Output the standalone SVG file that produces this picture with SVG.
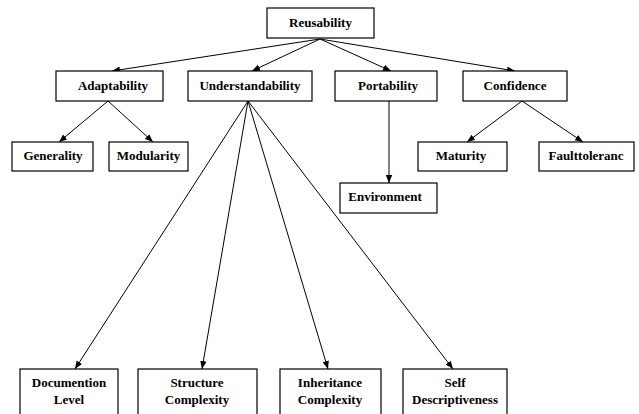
<svg xmlns="http://www.w3.org/2000/svg" width="639" height="414" viewBox="0 0 639 414">
<style>
rect{fill:#fff;stroke:#000;stroke-width:1.2}
text{font-family:"Liberation Serif","Times New Roman",serif;font-weight:bold;font-size:13px;text-anchor:middle;fill:#000}
.c line{stroke:#000;stroke-width:1;marker-end:url(#a)}
</style>
<defs>
<marker id="a" viewBox="0 0 10 10" refX="10" refY="5" markerWidth="8" markerHeight="8" markerUnits="userSpaceOnUse" orient="auto">
<path d="M0,1 L10,5 L0,9 Z" fill="#000"/>
</marker>
</defs>
<rect x="0" y="0" width="639" height="414" style="stroke:none"/>
<g class="c" id="connectors">
<line x1="320" y1="39" x2="112" y2="71"/>
<line x1="320" y1="39" x2="252" y2="71"/>
<line x1="320" y1="39" x2="391" y2="71"/>
<line x1="320" y1="39" x2="515" y2="71"/>
<line x1="108" y1="101" x2="59" y2="142"/>
<line x1="108" y1="101" x2="153" y2="142"/>
<line x1="248" y1="101" x2="75" y2="369"/>
<line x1="248" y1="101" x2="202" y2="369"/>
<line x1="248" y1="101" x2="328" y2="369"/>
<line x1="248" y1="101" x2="453" y2="369"/>
<line x1="389" y1="101" x2="389" y2="183"/>
<line x1="522" y1="101" x2="467" y2="142"/>
<line x1="522" y1="101" x2="583" y2="142"/>
</g>
<g id="reusability"><rect x="267" y="8" width="107" height="30"/><text x="320.5" y="27">Reusability</text></g>
<g id="adaptability"><rect x="56" y="71" width="107" height="30"/><text x="113" y="90">Adaptability</text></g>
<g id="understandability"><rect x="188" y="71" width="124" height="30"/><text x="250" y="90">Understandability</text></g>
<g id="portability"><rect x="335" y="71" width="102" height="30"/><text x="388" y="90">Portability</text></g>
<g id="confidence"><rect x="463" y="71" width="104" height="30"/><text x="515" y="90">Confidence</text></g>
<g id="generality"><rect x="12" y="142" width="81" height="29"/><text x="53" y="160">Generality</text></g>
<g id="modularity"><rect x="109" y="142" width="79" height="29"/><text x="148.5" y="160">Modularity</text></g>
<g id="maturity"><rect x="418" y="142" width="89" height="29"/><text x="461" y="160">Maturity</text></g>
<g id="faulttoleranc"><rect x="539" y="142" width="95" height="29"/><text x="586" y="160">Faulttoleranc</text></g>
<g id="environment"><rect x="340" y="183" width="97" height="30"/><text x="385" y="201">Environment</text></g>
<g id="documention"><rect x="20" y="369" width="98" height="50"/><text x="69" y="387">Documention</text><text x="69" y="404">Level</text></g>
<g id="structure"><rect x="138" y="369" width="119" height="50"/><text x="197" y="387">Structure</text><text x="197" y="404">Complexity</text></g>
<g id="inheritance"><rect x="280" y="369" width="101" height="50"/><text x="330" y="387">Inheritance</text><text x="330" y="404">Complexity</text></g>
<g id="self"><rect x="403" y="369" width="104" height="50"/><text x="455" y="387">Self</text><text x="455" y="404">Descriptiveness</text></g>
</svg>
